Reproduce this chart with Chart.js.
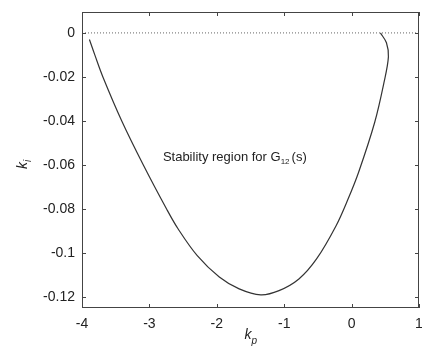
<!DOCTYPE html>
<html>
<head>
<meta charset="utf-8">
<script src="https://cdn.jsdelivr.net/npm/chart.js@4"></script>
<style>
  html, body { margin: 0; padding: 0; background: #fff; }
  #wrap { width: 422px; height: 351px; }
</style>
</head>
<body>
<div id="wrap"><canvas id="chart" width="422" height="351"></canvas></div>
<script>
// Boundary of the stability region
const kp = [-3.89, -3.81, -3.69, -3.41, -3.09, -2.745, -2.573, -2.29, -1.963, -1.668, -1.348, -1.077, -0.782, -0.52, -0.23, -0.054, 0.104, 0.342, 0.48, 0.546, 0.517, 0.428];
const ki = [-0.003, -0.010, -0.020, -0.040, -0.060, -0.080, -0.0891, -0.1012, -0.1109, -0.1163, -0.119, -0.1171, -0.1118, -0.1027, -0.0876, -0.0756, -0.0633, -0.0407, -0.0226, -0.0109, -0.0045, 0.000];

// Dotted zero line
const zeroX = [-4, 1];
const zeroY = [0, 0];

// Tick labels
const xTicks = [-4, -3, -2, -1, 0, 1];
const yTicks = [0, -0.02, -0.04, -0.06, -0.08, -0.1, -0.12];

const FONT = '"Liberation Sans", Arial, Helvetica, sans-serif';
const INK = '#222';

// Box, inward ticks, axis labels and the note
const framePlugin = {
    id: 'frame',
    afterDraw(chart) {
        const { ctx, chartArea: a, scales } = chart;
        ctx.save();
        ctx.strokeStyle = '#444';
        ctx.lineWidth = 1;
        ctx.strokeRect(a.left + 0.5, a.top + 0.5, a.right - a.left - 1, a.bottom - a.top - 1);

        ctx.beginPath();
        xTicks.forEach(v => {
            const x = Math.round(scales.x.getPixelForValue(v)) + 0.5;
            ctx.moveTo(x, a.bottom); ctx.lineTo(x, a.bottom - 4);
            ctx.moveTo(x, a.top); ctx.lineTo(x, a.top + 4);
        });
        yTicks.forEach(v => {
            const y = Math.round(scales.y.getPixelForValue(v)) + 0.5;
            ctx.moveTo(a.left, y); ctx.lineTo(a.left + 4, y);
            ctx.moveTo(a.right, y); ctx.lineTo(a.right - 4, y);
        });
        ctx.stroke();

        ctx.fillStyle = INK;
        ctx.textBaseline = 'alphabetic';

        // x label: k_p
        const cx = (a.left + a.right) / 2;
        ctx.font = 'italic 14px ' + FONT;
        ctx.textAlign = 'right';
        ctx.fillText('k', cx + 1, 339);
        ctx.font = 'italic 10px ' + FONT;
        ctx.textAlign = 'left';
        ctx.fillText('p', cx + 1, 344);

        // y label: k_i (rotated)
        ctx.save();
        ctx.translate(27, (a.top + a.bottom) / 2 + 2);
        ctx.rotate(-Math.PI / 2);
        ctx.font = 'italic 14px ' + FONT;
        ctx.textAlign = 'right';
        ctx.fillText('k', 0, 0);
        ctx.font = 'italic 10px ' + FONT;
        ctx.textAlign = 'left';
        ctx.fillText('i', 0, 4);
        ctx.restore();

        // note inside the plot
        let tx = scales.x.getPixelForValue(-2.80);
        const ty = scales.y.getPixelForValue(-0.056) + 5;
        ctx.textAlign = 'left';
        ctx.font = '13px ' + FONT;
        const main = 'Stability region for G';
        ctx.fillText(main, tx, ty);
        tx += ctx.measureText(main).width;
        ctx.font = '8px ' + FONT;
        ctx.fillText('12', tx, ty + 3);
        tx += ctx.measureText('12').width + 2;
        ctx.font = '13px ' + FONT;
        ctx.fillText('(s)', tx, ty);
        ctx.restore();
    }
};

function initChart() {
    const ctx = document.getElementById('chart').getContext('2d');
    new Chart(ctx, {
        type: 'scatter',
        data: {
            datasets: [
                {
                    data: zeroX.map((x, i) => ({ x, y: zeroY[i] })),
                    showLine: true,
                    borderColor: '#666',
                    borderWidth: 1,
                    borderDash: [1, 2],
                    pointRadius: 0
                },
                {
                    data: kp.map((x, i) => ({ x, y: ki[i] })),
                    showLine: true,
                    borderColor: '#333',
                    borderWidth: 1.2,
                    tension: 0.35,
                    pointRadius: 0
                }
            ]
        },
        options: {
            responsive: false,
            animation: false,
            layout: { padding: { top: 12, right: 3, left: 0, bottom: 0 } },
            plugins: {
                legend: { display: false },
                tooltip: { enabled: false }
            },
            scales: {
                x: {
                    type: 'linear',
                    min: -4,
                    max: 1,
                    afterBuildTicks: axis => { axis.ticks = xTicks.map(v => ({ value: v })); },
                    afterFit: axis => { axis.height = 43; axis.paddingLeft = 0; axis.paddingRight = 0; },
                    grid: { display: false, drawTicks: false },
                    border: { display: false },
                    ticks: {
                        padding: 8,
                        color: INK,
                        font: { family: FONT, size: 14 },
                        maxRotation: 0,
                        callback: v => String(v)
                    }
                },
                y: {
                    type: 'linear',
                    min: -0.125,
                    max: 0.0095,
                    afterBuildTicks: axis => { axis.ticks = yTicks.map(v => ({ value: v })); },
                    afterFit: axis => { axis.width = 82; axis.paddingTop = 0; axis.paddingBottom = 0; },
                    grid: { display: false, drawTicks: false },
                    border: { display: false },
                    ticks: {
                        padding: 7,
                        color: INK,
                        font: { family: FONT, size: 14 },
                        callback: v => String(+v.toFixed(3))
                    }
                }
            }
        },
        plugins: [framePlugin]
    });
}

initChart();
</script>
</body>
</html>
